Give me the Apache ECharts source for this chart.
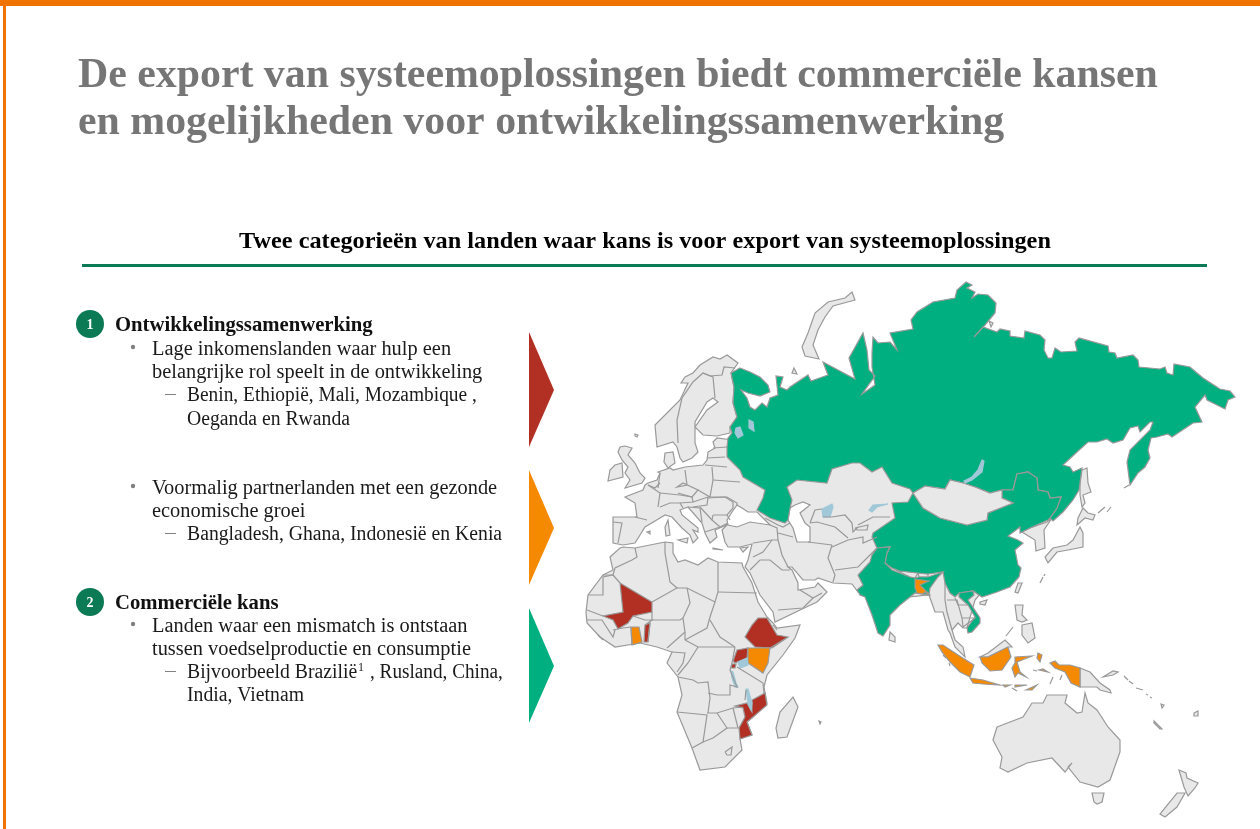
<!DOCTYPE html>
<html>
<head>
<meta charset="utf-8">
<title>Export van systeemoplossingen</title>
<script src="https://cdn.jsdelivr.net/npm/echarts@6/dist/echarts.min.js"></script>
<style>
html, body { margin: 0; background: #fff; }
#main { width: 1260px; height: 829px; }
</style>
</head>
<body>
<div id="main"></div>
<script>
// tekst van de slide
const titleLines = [
  'De export van systeemoplossingen biedt commerciële kansen',
  'en mogelijkheden voor ontwikkelingssamenwerking'
]
const subTitle = 'Twee categorieën van landen waar kans is voor export van systeemoplossingen'
const headings = ['Ontwikkelingssamenwerking', 'Commerciële kans']
const bullets = [
  ['Lage inkomenslanden waar hulp een', 'belangrijke rol speelt in de ontwikkeling'],
  ['Voormalig partnerlanden met een gezonde', 'economische groei'],
  ['Landen waar een mismatch is ontstaan', 'tussen voedselproductie en consumptie']
]
const subBullets = [
  ['Benin, Ethiopië, Mali, Mozambique ,', 'Oeganda en Rwanda'],
  ['Bangladesh, Ghana, Indonesië en Kenia'],
  ['Bijvoorbeeld Brazilië', 'India, Vietnam']
]

const eurasia = [[717,438],[713,442],[715,448],[708,452],[707,460],[703,465],[685,467],[673,470],[670,468],[658,472],[660,473],[657,480],[648,483],[645,485],[643,490],[630,495],[625,497],[635,503],[637,517],[613,517],[613,525],[613,543],[623,545],[635,543],[640,535],[645,527],[660,518],[665,515],[672,517],[682,528],[690,535],[693,543],[698,538],[693,530],[698,532],[698,528],[682,515],[680,510],[688,507],[702,523],[705,533],[710,543],[717,537],[715,530],[722,527],[728,524],[722,530],[725,542],[728,547],[740,547],[752,544],[748,560],[745,567],[750,573],[760,595],[773,612],[775,622],[800,610],[817,602],[827,592],[818,583],[815,587],[798,590],[798,583],[792,570],[788,567],[792,567],[803,580],[815,580],[818,578],[833,583],[852,584],[858,592],[880,600],[929,595],[935,612],[943,612],[948,630],[950,633],[955,647],[965,657],[963,647],[955,640],[952,630],[958,623],[963,628],[967,628],[975,600],[1000,570],[960,500],[950,470],[760,440],[732,440]]
const scandinavia = [[730,433],[717,436],[703,435],[695,427],[707,410],[718,402],[713,398],[707,402],[695,422],[695,443],[698,452],[692,458],[683,462],[680,458],[677,447],[673,442],[657,447],[655,425],[680,400],[688,383],[681,383],[685,377],[693,373],[700,365],[713,357],[720,359],[727,355],[738,363],[731,373],[734,387],[733,403],[737,417],[730,427]]
const denmark = [[665,453],[673,452],[675,463],[668,468],[664,462]]
const britain = [[620,447],[625,446],[632,448],[628,455],[635,463],[640,473],[645,478],[642,483],[625,488],[630,480],[625,473],[628,467],[622,460],[618,452]]
const ireland = [[622,463],[623,477],[608,481],[610,470],[615,465]]
const iceland = [[635,434],[638,435],[637,437],[635,436]]
const sardinia = [[668,520],[669,528],[670,535],[666,536],[665,527]]
const mallorca = [[647,532],[650,531],[650,534]]
const sicily = [[678,540],[688,538],[687,543]]
const crete = [[713,548],[723,550],[713,549]]
const cyprus = [[740,548],[748,547],[743,552]]
const novayaZemlya = [[855,300],[833,306],[825,317],[818,330],[813,345],[819,359],[819,360],[805,356],[802,347],[808,333],[815,313],[828,302],[845,298],[852,292]]
const kolguev = [[792,373],[794,368],[797,374]]
const arcticIsle = [[989,321],[993,323],[991,327]]
const africa = [[620,548],[623,547],[635,548],[665,542],[673,543],[673,553],[678,562],[685,560],[698,565],[708,558],[718,562],[742,563],[743,567],[752,583],[758,602],[767,617],[773,623],[777,628],[800,625],[795,638],[783,655],[767,675],[764,687],[767,703],[753,717],[747,722],[752,735],[740,739],[742,750],[725,767],[700,770],[692,748],[677,712],[682,695],[678,677],[667,663],[672,652],[657,647],[640,643],[615,647],[600,637],[587,623],[586,612],[588,595],[603,575],[613,570],[610,557]]
const madagascar = [[793,697],[798,707],[787,737],[778,738],[776,728],[780,712]]
const reunion = [[819,721],[821,722],[820,724]]
const sriLanka = [[890,632],[895,637],[895,642],[889,640]]
const korea = [[1022,532],[1030,528],[1047,522],[1052,518],[1044,530],[1045,548],[1036,551],[1035,540],[1030,537]]
const sakhalin = [[1082,470],[1087,468],[1088,483],[1091,492],[1083,495],[1085,503],[1082,507],[1080,495],[1080,483]]
const hokkaido = [[1083,508],[1088,513],[1095,515],[1093,520],[1085,518],[1077,525],[1078,518]]
const honshu = [[1080,527],[1083,533],[1083,547],[1082,548],[1068,550],[1057,552],[1048,563],[1045,557],[1053,548],[1067,545],[1073,540]]
const taiwan = [[1018,583],[1022,583],[1018,593],[1015,592]]
const hainan = [[980,602],[987,600],[985,605],[980,604]]
const luzon = [[1015,605],[1023,605],[1022,615],[1027,620],[1022,622],[1017,620]]
const mindanao = [[1022,625],[1032,623],[1035,638],[1028,643],[1022,635]]
const northBorneo = [[980,657],[988,653],[1005,640],[1012,647],[1008,647],[988,657]]
const png = [[1080,668],[1090,672],[1100,683],[1110,690],[1111,693],[1100,690],[1097,687],[1080,687]]
const newBritain = [[1103,677],[1113,675],[1118,672],[1113,671]]
const newCaledonia = [[1154,721],[1162,729],[1160,729],[1154,723]]
const vanuatu = [[1161,704],[1164,705],[1162,708]]
const fiji = [[1194,713],[1198,711],[1198,716],[1194,716]]
const australia = [[997,727],[1023,717],[1032,703],[1043,703],[1047,695],[1067,695],[1065,703],[1077,713],[1082,712],[1085,693],[1088,703],[1097,710],[1108,727],[1120,740],[1120,752],[1110,780],[1098,787],[1080,782],[1068,767],[1072,763],[1065,772],[1052,758],[1027,763],[1008,772],[1000,768],[1002,757],[993,740]]
const tasmania = [[1092,793],[1104,793],[1102,802],[1097,804],[1094,802]]
const nzSouth = [[1177,793],[1185,793],[1177,807],[1165,817],[1160,814]]
const nzNorth = [[1179,770],[1186,773],[1187,778],[1198,783],[1195,788],[1188,796],[1184,787]]
const mongolia = [[913,493],[925,486],[945,489],[950,480],[963,483],[975,487],[990,493],[1002,490],[1002,498],[1013,503],[1003,507],[988,513],[987,520],[967,525],[940,518],[923,508]]
const nepal = [[892,568],[900,571],[918,573],[915,578],[910,577]]
const bhutan = [[918,573],[928,574],[928,577],[919,577]]

const blackSea = [[727,520],[732,512],[737,505],[742,508],[748,512],[757,512],[762,517],[770,525],[750,522],[737,527],[728,525]]
const caspian = [[790,508],[795,505],[803,502],[810,505],[800,513],[805,523],[810,527],[810,542],[797,542],[793,528],[788,520]]

// rood: lage inkomenslanden
const mali = [[620,583],[652,602],[652,612],[633,616],[628,623],[618,629],[613,620],[603,616],[623,612]]
const benin = [[645,625],[650,623],[648,642],[644,642]]
const ethiopia = [[758,618],[767,618],[777,635],[788,637],[772,648],[755,647],[745,637],[752,625]]
const uganda = [[737,650],[748,648],[747,658],[735,663],[733,661]]
const rwanda = [[732,664],[736,664],[735,668],[731,668]]
const mozambique = [[765,693],[767,705],[753,717],[747,722],[752,735],[740,739],[739,728],[745,717],[743,708],[735,706],[747,703],[752,712],[752,700]]

// oranje: voormalige partnerlanden
const ghana = [[631,627],[639,627],[642,642],[632,645]]
const kenya = [[748,648],[770,648],[768,663],[763,673],[748,663]]
const bangladesh = [[915,579],[929,581],[920,585],[930,595],[928,595],[925,592],[923,594],[917,593],[915,588]]
const sumatra = [[938,645],[943,645],[958,655],[974,665],[970,677],[960,672],[950,662],[942,652]]
const java = [[970,678],[983,680],[1000,685],[983,684],[973,683]]
const bali = [[1003,685],[1010,685],[1005,687]]
const flores = [[1015,685],[1027,685],[1015,687]]
const timor = [[1026,690],[1037,685],[1032,690]]
const kalimantan = [[980,657],[988,657],[1008,647],[1011,657],[1002,670],[990,671],[982,663]]
const sulawesi = [[1015,657],[1032,656],[1017,662],[1020,672],[1026,677],[1018,673],[1015,677],[1012,668],[1015,663]]
const halmahera = [[1038,653],[1042,655],[1040,662],[1037,658]]
const seram = [[1039,670],[1048,672],[1043,669]]
const papua = [[1050,663],[1055,661],[1059,665],[1070,665],[1080,668],[1080,687],[1071,683],[1065,672],[1055,668]]

// groen: commerciële kans
const russia = [[740,368],[750,372],[760,377],[768,385],[770,392],[760,396],[748,393],[741,390],[747,398],[750,407],[755,410],[762,403],[767,407],[770,398],[778,395],[776,376],[783,377],[780,387],[787,390],[790,387],[808,375],[811,381],[828,375],[823,362],[855,379],[849,358],[863,333],[867,350],[869,370],[875,376],[862,394],[875,385],[872,367],[872,353],[873,337],[878,343],[890,342],[897,350],[890,333],[913,329],[911,320],[917,312],[933,302],[955,298],[957,290],[966,282],[972,285],[967,288],[975,292],[972,298],[978,294],[988,295],[996,303],[995,313],[985,325],[974,337],[983,327],[997,332],[1000,329],[1010,331],[1010,336],[1024,338],[1025,331],[1040,335],[1045,340],[1044,350],[1048,358],[1052,358],[1055,348],[1061,352],[1077,351],[1075,342],[1079,338],[1108,346],[1109,352],[1115,353],[1117,358],[1133,355],[1138,360],[1139,367],[1160,369],[1165,367],[1167,373],[1173,375],[1174,364],[1190,367],[1203,378],[1220,389],[1230,391],[1235,397],[1228,400],[1225,409],[1207,400],[1205,395],[1195,407],[1202,422],[1193,423],[1172,437],[1168,434],[1157,437],[1151,438],[1148,450],[1150,458],[1145,467],[1138,473],[1130,485],[1127,462],[1130,450],[1150,430],[1153,422],[1150,422],[1140,432],[1138,426],[1130,428],[1123,440],[1113,443],[1107,439],[1097,442],[1088,442],[1077,452],[1063,465],[1070,467],[1073,472],[1082,468],[1079,490],[1073,500],[1063,512],[1053,521],[1050,518],[1057,508],[1061,497],[1050,498],[1048,492],[1038,490],[1037,478],[1028,472],[1017,474],[1013,490],[1002,490],[990,493],[975,487],[963,483],[950,480],[945,489],[925,486],[913,493],[910,489],[892,483],[882,467],[872,472],[860,463],[852,463],[832,469],[827,483],[797,480],[787,487],[792,500],[790,508],[788,520],[785,523],[770,518],[757,510],[763,498],[765,490],[743,477],[740,470],[727,457],[727,447],[728,438],[732,433],[730,427],[737,417],[733,403],[734,387],[731,373]]
const china = [[913,493],[923,508],[940,518],[967,525],[987,520],[988,513],[1003,507],[1013,503],[1002,498],[1002,490],[1013,490],[1017,474],[1028,472],[1037,478],[1038,490],[1048,492],[1050,498],[1061,497],[1057,508],[1050,518],[1048,520],[1030,528],[1020,533],[1020,527],[1008,536],[1018,540],[1023,543],[1015,550],[1018,565],[1021,568],[1019,577],[1010,587],[997,592],[982,597],[973,591],[959,593],[955,597],[950,593],[945,583],[943,572],[928,574],[918,573],[900,571],[892,568],[885,563],[887,553],[890,547],[877,548],[872,537],[873,533],[895,518],[892,503],[908,502]]
const india = [[877,548],[890,547],[887,553],[885,563],[892,570],[910,577],[915,578],[919,577],[928,577],[943,572],[938,577],[930,588],[929,595],[928,595],[915,593],[910,597],[900,605],[890,615],[890,625],[883,636],[878,633],[872,615],[865,597],[860,595],[857,590],[863,585],[858,575],[870,562],[872,555]]
const vietnam = [[959,593],[973,591],[974,595],[968,600],[980,618],[980,623],[972,632],[968,633],[967,628],[975,617],[968,605],[959,597]]

// meren
const ladoga = [[736,428],[740,427],[743,435],[738,438],[735,433]]
const onega = [[749,420],[753,422],[754,431],[749,428]]
const aral = [[822,509],[832,504],[833,507],[830,517],[823,517]]
const balkhash = [[869,510],[873,505],[888,504],[877,507],[872,512]]
const baikal = [[982,460],[984,461],[982,472],[972,480],[965,483],[964,481],[972,477],[978,470]]
const victoria = [[738,662],[747,658],[748,665],[740,668]]
const tanganyika = [[731,671],[733,672],[736,683],[738,687],[735,687],[732,678]]
const malawi = [[746,689],[748,689],[752,703],[751,710],[748,703]]

// grenzen en kleine eilandjes
const borderLines = [
  // Scandinavië
  [[710,376],[703,373],[693,382],[682,398],[677,420],[678,443]], [[703,373],[713,377],[715,398]], [[710,376],[722,375],[724,367],[735,368]],
  // Europa
  [[635,517],[647,520]], [[648,485],[655,488],[660,483]], [[648,485],[660,493],[658,507]], [[660,507],[670,503],[680,503],[683,508]], [[660,473],[658,488]], [[660,493],[680,495]],
  [[685,470],[687,485],[677,487],[683,483],[698,490],[692,497],[678,493]], [[680,495],[692,497],[693,502],[680,503]], [[698,490],[710,497],[713,480],[712,467]],
  [[707,458],[725,457]], [[705,465],[727,467]], [[713,448],[727,447]], [[713,480],[740,482]], [[710,497],[727,497],[737,503],[737,505]],
  [[693,502],[708,497],[707,505],[693,507]], [[708,498],[725,497],[733,502],[733,508],[727,515],[713,515]], [[713,515],[712,520],[720,527],[728,523]], [[727,515],[730,520]],
  [[700,507],[712,520]], [[705,532],[720,527]], [[688,507],[700,508],[702,522]], [[613,522],[622,523],[618,543]],
  // Midden-Oosten en Centraal-Azië
  [[753,543],[772,540],[778,540]], [[770,525],[777,528],[778,540]], [[772,540],[763,552],[753,557]], [[750,570],[760,560],[770,560],[782,570],[790,570]], [[778,540],[782,555],[788,567]],
  [[765,518],[778,525],[783,527],[790,523]], [[778,533],[793,537]], [[808,542],[832,545]], [[832,545],[828,558],[835,575],[833,582]], [[835,570],[858,567],[870,555],[877,548]],
  [[832,547],[848,540],[863,537],[863,543],[877,537]], [[810,523],[817,522],[835,527],[848,538]], [[810,523],[815,510],[822,509]], [[823,517],[832,517],[845,515],[852,523],[853,532],[858,527]],
  [[858,525],[873,517],[890,517]], [[855,528],[868,525],[867,530],[857,530],[855,528]], [[800,590],[813,598],[822,593]], [[778,610],[803,608],[808,603],[813,598]],
  // Afrika
  [[603,575],[613,575],[615,568],[632,560],[637,557],[635,548]], [[588,595],[603,595],[603,577],[613,575],[620,583]], [[587,610],[603,616]], [[587,620],[602,620],[613,637],[615,630]], [[598,635],[603,640]],
  [[613,630],[623,628],[631,627]], [[632,645],[631,627]], [[633,616],[645,620],[652,620],[645,625]], [[652,602],[677,588],[670,582],[665,553],[665,542]], [[652,612],[652,620],[680,620],[683,618]],
  [[650,623],[648,642]], [[677,588],[687,588],[715,602],[718,592],[718,562]], [[718,592],[757,593]], [[715,602],[710,617],[707,628],[685,640]], [[687,588],[690,603],[683,618],[685,632],[685,640]], [[685,632],[667,648]],
  [[710,620],[720,637],[735,647]], [[685,640],[698,647],[735,647]], [[698,647],[688,663],[678,675]], [[672,652],[685,653],[683,663],[677,672]], [[735,647],[732,663],[730,670],[737,687],[730,685],[730,695],[717,695],[708,693]],
  [[678,677],[693,680],[698,683],[708,682],[710,698],[708,713]], [[677,712],[707,715],[703,742],[692,748]], [[707,713],[717,713],[733,708],[743,707]], [[746,690],[745,700]], [[717,713],[727,728],[713,738],[703,742]], [[733,708],[738,728],[727,728]],
  [[737,667],[763,683],[764,693]], [[788,637],[770,648]], [[773,625],[777,630]], [[725,752],[732,747],[731,755],[727,755],[725,752]],
  // Zuidoost-Azië
  [[945,583],[945,600],[947,612],[952,630]], [[955,598],[958,605],[968,605]], [[962,618],[963,627],[975,618],[962,618]], [[947,600],[957,600],[962,618]],
  // eilandjes
  [[1098,513],[1105,507]], [[1107,512],[1111,507]], [[1124,488],[1129,485]], [[1040,583],[1043,577]], [[1044,576],[1045,574]], [[1006,636],[1013,627]],
  [[943,655],[946,658]], [[949,663],[950,666]], [[1012,688],[1017,691]], [[1033,670],[1037,671]], [[1050,684],[1053,677]], [[1060,680],[1062,675]],
  [[1124,676],[1128,680]], [[1129,681],[1133,684]], [[1136,688],[1143,690]], [[1146,694],[1148,695]], [[1150,697],[1152,698]]
]

const redShapes = { Mali: mali, Benin: benin, Ethiopia: ethiopia, Uganda: uganda, Rwanda: rwanda, Mozambique: mozambique }
const orangeShapes = { Ghana: ghana, Kenya: kenya, Bangladesh: bangladesh, Sumatra: sumatra, Java: java, Bali: bali, Flores: flores, Timor: timor, Kalimantan: kalimantan, Sulawesi: sulawesi, Halmahera: halmahera, Seram: seram, Papua: papua }
const greenShapes = { Russia: russia, China: china, India: india, Vietnam: vietnam }
const greyShapes = { eurasia, scandinavia, denmark, britain, ireland, iceland, sardinia, mallorca, sicily, crete, cyprus, novayaZemlya, kolguev, arcticIsle, africa, madagascar, reunion, sriLanka, korea, sakhalin, hokkaido, honshu, taiwan, hainan, luzon, mindanao, northBorneo, png, newBritain, newCaledonia, vanuatu, fiji, australia, tasmania, nzSouth, nzNorth, nepal, bhutan }
const seaShapes = { blackSea, caspian }
const lakeShapes = { ladoga, onega, aral, balkhash, baikal, victoria, tanganyika, malawi }

const colors = {
  orangeBar: '#F07300',
  titleGrey: '#767676',
  dark: '#1a1a1a',
  rule: '#0B7A55',
  land: '#E8E8E8',
  edge: '#999999',
  red: '#B23023',
  orange: '#F58A00',
  green: '#00AF80',
  lake: '#A0C8D8',
  dot: '#808080'
}
const serif = '"Liberation Serif", serif'

// kaart opbouwen
const features = []
const regions = []
const addGroup = (group, areaColor, borderColor) => {
  Object.keys(group).forEach(name => {
    features.push({ type: 'Feature', properties: { name }, geometry: { type: 'Polygon', coordinates: [group[name]] } })
    regions.push({ name, itemStyle: { areaColor, borderColor } })
  })
}
addGroup(greyShapes, colors.land, colors.edge)
addGroup(seaShapes, '#ffffff', colors.edge)
addGroup(greenShapes, colors.green, colors.edge)
addGroup({ mongolia }, colors.land, colors.edge)
addGroup(redShapes, colors.red, colors.edge)
addGroup(orangeShapes, colors.orange, colors.edge)
addGroup(lakeShapes, colors.lake, colors.lake)

echarts.registerMap('slide', { type: 'FeatureCollection', features })

// kaart 1 op 1 op het beeld leggen
const allPoints = features.flatMap(f => f.geometry.coordinates[0])
const xs = allPoints.map(p => p[0])
const ys = allPoints.map(p => p[1])
const minX = Math.min(...xs), maxX = Math.max(...xs)
const minY = Math.min(...ys), maxY = Math.max(...ys)

const label = (text, x, y, opts = {}) => ({
  type: 'text',
  x, y,
  silent: true,
  scaleX: opts.scaleX || 1,
  style: {
    text,
    fontFamily: serif,
    fontSize: opts.size || 20,
    fontWeight: opts.weight || 'normal',
    fill: opts.color || colors.dark,
    align: opts.align || 'left',
    verticalAlign: 'middle'
  }
})
const body = (text, x, y) => label(text, x, y, { scaleX: 1.02 })
const sub = (text, x, y, scaleX = 0.985) => label(text, x, y, { scaleX })
const heading = (text, y) => label(text, 115, y, { weight: 'bold', color: '#111', scaleX: 1.035 })
const triangle = (top, color) => ({
  type: 'polygon',
  silent: true,
  shape: { points: [[529, top], [554, top + 58], [529, top + 115]] },
  style: { fill: color }
})
const badge = (y, text) => [
  { type: 'circle', silent: true, shape: { cx: 90, cy: y, r: 14 }, style: { fill: colors.rule } },
  label(text, 90, y + 1, { size: 14, weight: 'bold', color: '#fff', align: 'center' })
]
const bullet = (y) => ({ type: 'circle', silent: true, shape: { cx: 133, cy: y, r: 2.2 }, style: { fill: colors.dot } })
const dash = (y) => ({ type: 'rect', silent: true, shape: { x: 165, y: y, width: 11, height: 1 }, style: { fill: colors.dot } })

const graphicElements = [
  { type: 'rect', silent: true, shape: { x: 0, y: 0, width: 1260, height: 6 }, style: { fill: colors.orangeBar } },
  { type: 'rect', silent: true, shape: { x: 3, y: 0, width: 3, height: 829 }, style: { fill: colors.orangeBar } },
  label(titleLines[0], 78, 76, { size: 42, weight: 'bold', color: colors.titleGrey, scaleX: 0.996 }),
  label(titleLines[1], 78, 123, { size: 42, weight: 'bold', color: colors.titleGrey, scaleX: 0.996 }),
  label(subTitle, 645, 242, { size: 23, weight: 'bold', color: '#000', align: 'center', scaleX: 1.056 }),
  { type: 'rect', silent: true, shape: { x: 82, y: 264, width: 1125, height: 3 }, style: { fill: colors.rule } },

  ...badge(324, '1'),
  heading(headings[0], 326),
  bullet(347),
  body(bullets[0][0], 152, 350),
  body(bullets[0][1], 152, 373),
  dash(394),
  sub(subBullets[0][0], 187, 396, 0.97),
  sub(subBullets[0][1], 187, 420),

  bullet(486),
  body(bullets[1][0], 152, 489),
  body(bullets[1][1], 152, 512),
  dash(533),
  sub(subBullets[1][0], 187, 535),

  ...badge(602, '2'),
  heading(headings[1], 604),
  bullet(624),
  body(bullets[2][0], 152, 627),
  body(bullets[2][1], 152, 650),
  dash(671),
  sub(subBullets[2][0], 187, 673),
  label('1', 358, 668, { size: 12 }),
  sub(', Rusland, China,', 370, 673, 0.96),
  sub(subBullets[2][1], 187, 696),

  triangle(332, colors.red),
  triangle(470, colors.orange),
  triangle(608, colors.green)
]

const chart = echarts.init(document.getElementById('main'), null, { renderer: 'canvas' })
chart.setOption({
  animation: false,
  backgroundColor: '#ffffff',
  graphic: { elements: graphicElements },
  geo: {
    map: 'slide',
    silent: true,
    roam: false,
    left: minX,
    top: minY,
    width: maxX - minX,
    height: maxY - minY,
    projection: {
      project: p => p,
      unproject: p => p
    },
    itemStyle: { areaColor: colors.land, borderColor: colors.edge, borderWidth: 1.2 },
    label: { show: false },
    emphasis: { disabled: true },
    select: { disabled: true },
    regions
  },
  series: [{
    type: 'lines',
    coordinateSystem: 'geo',
    polyline: true,
    silent: true,
    lineStyle: { color: colors.edge, width: 1.2, opacity: 1 },
    data: borderLines.map(coords => ({ coords }))
  }]
})
</script>
</body>
</html>
